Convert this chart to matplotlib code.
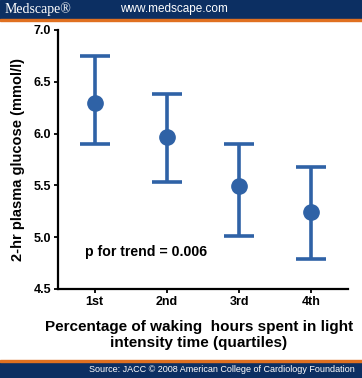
import matplotlib
matplotlib.use("Agg")
import matplotlib.pyplot as plt
from matplotlib.patches import Rectangle

# data
quartiles = ["1st", "2nd", "3rd", "4th"]
means = [6.30, 5.97, 5.49, 5.24]
upper = [6.75, 6.38, 5.90, 5.68]
lower = [5.90, 5.53, 5.01, 4.79]
yticks = [4.5, 5.0, 5.5, 6.0, 6.5, 7.0]

blue = "#2f62a6"
navy = "#0c2f62"
orange = "#e07020"

plt.rcParams["font.family"] = ["Liberation Sans", "DejaVu Sans"]

fig = plt.figure(figsize=(3.62, 3.78), dpi=100)
ax = fig.add_axes([58 / 362, 1 - 289 / 378, 290 / 362, 259 / 378])

x = list(range(1, len(quartiles) + 1))
err_lo = [m - l for m, l in zip(means, lower)]
err_hi = [u - m for m, u in zip(means, upper)]
ax.errorbar(x, means, yerr=[err_lo, err_hi], fmt="o", color=blue, ms=11,
            elinewidth=2.6, capsize=11, capthick=2.6)

ax.set_xlim(0.49, 4.51)
ax.set_ylim(4.5, 7.0)
ax.set_xticks(x)
ax.set_xticklabels(quartiles, fontsize=9, fontweight="bold")
ax.set_yticks(yticks)
ax.set_yticklabels([f"{v:.1f}" for v in yticks], fontsize=9, fontweight="bold")
for s in ["top", "right"]:
    ax.spines[s].set_visible(False)
for s in ["left", "bottom"]:
    ax.spines[s].set_linewidth(1.6)
ax.tick_params(width=1.3, length=3, pad=2)
ax.set_ylabel("2-hr plasma glucose (mmol/l)", fontsize=10.5, fontweight="bold", labelpad=6)
ax.text(0.86, 4.86, "p for trend = 0.006", fontsize=10.2, fontweight="bold", va="center")

fig.text(199 / 362, 1 - 335 / 378, "Percentage of waking  hours spent in light\nintensity time (quartiles)",
         ha="center", va="center", fontsize=11, fontweight="bold", linespacing=1.1)

# header and footer bars
fig.patches.append(Rectangle((0, 1 - 19 / 378), 1, 19 / 378, transform=fig.transFigure, color=navy))
fig.patches.append(Rectangle((0, 1 - 21 / 378), 1, 2 / 378, transform=fig.transFigure, color=orange))
fig.patches.append(Rectangle((0, 0), 1, 16 / 378, transform=fig.transFigure, color=navy))
fig.patches.append(Rectangle((0, 16 / 378), 1, 2 / 378, transform=fig.transFigure, color=orange))
fig.text(5 / 362, 1 - 9 / 378, "Medscape®", color="white", fontsize=10,
         family="Liberation Serif", va="center")
fig.text(120 / 362, 1 - 9 / 378, "www.medscape.com", color="white", fontsize=8.5, va="center")
fig.text(355 / 362, 8 / 378, "Source: JACC © 2008 American College of Cardiology Foundation",
         color="white", fontsize=6.5, ha="right", va="center")

fig.savefig("out.png", dpi=100)
